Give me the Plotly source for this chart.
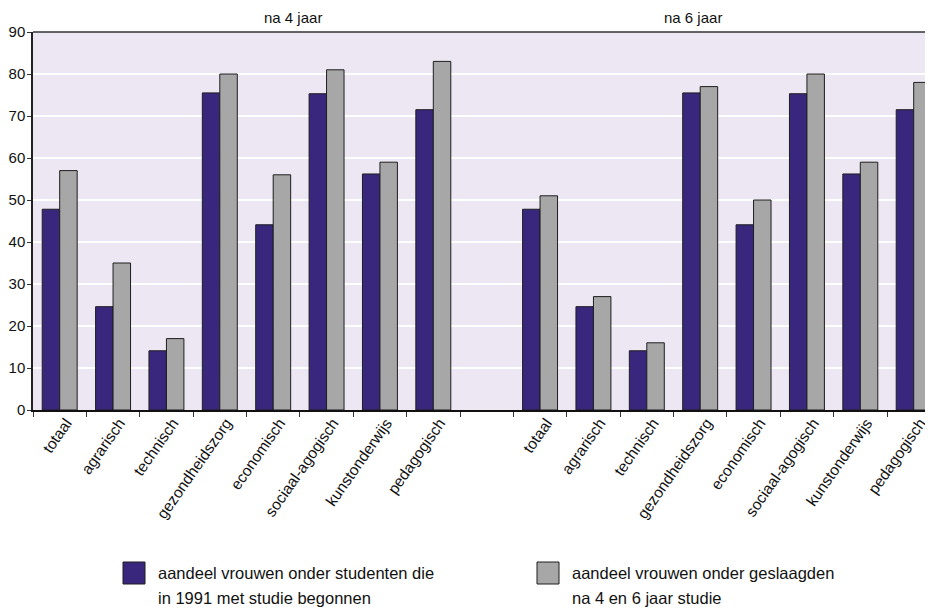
import plotly.graph_objects as go

# ---- data ----
categories = ["totaal", "agrarisch", "technisch", "gezondheidszorg",
              "economisch", "sociaal-agogisch", "kunstonderwijs", "pedagogisch"]
group_titles = ["na 4 jaar", "na 6 jaar"]
series_names = ["aandeel vrouwen onder studenten die<br>in 1991 met studie begonnen",
                "aandeel vrouwen onder geslaagden<br>na 4 en 6 jaar studie"]
starters_4 = [47.8, 24.6, 14.1, 75.5, 44.1, 75.3, 56.2, 71.5]
graduates_4 = [57, 35, 17, 80, 56, 81, 59, 83]
starters_6 = [47.8, 24.6, 14.1, 75.5, 44.1, 75.3, 56.2, 71.5]
graduates_6 = [51, 27, 16, 77, 50, 80, 59, 78]
y_ticks = [0, 10, 20, 30, 40, 50, 60, 70, 80, 90]

# ---- layout helpers ----
# the page body has an 8px margin; the figure is sized so it fills the window exactly
OFF = 8
W, H = 933 - OFF, 609 - OFF
L, T = 33 - OFF, 32 - OFF
B = H - (410 - OFF)
PW = W - L
PH = H - T - B
FONT = "Liberation Sans Narrow, Arial Narrow, Liberation Sans, Arial, sans-serif"
PURPLE = "#39277D"
GRAY = "#A7A7A7"
OUTLINE = "#1E1E1E"

n = len(categories)
x4 = list(range(n))
x6 = [i + n + 1 for i in range(n)]
xs = x4 + x6
slot_px = 53.375
x_max = -0.5 + PW / slot_px
label_shift = 0.12  # rotated labels sit slightly right of the slot centre

def px_x(px):  # window pixel -> paper fraction
    return (px - OFF - L) / PW

def px_y(py):
    return (H - B - (py - OFF)) / PH

fig = go.Figure()
fig.add_trace(go.Bar(x=xs, y=starters_4 + starters_6, name=series_names[0],
                     marker=dict(color=PURPLE, line=dict(color=OUTLINE, width=1)),
                     showlegend=False))
fig.add_trace(go.Bar(x=xs, y=graduates_4 + graduates_6, name=series_names[1],
                     marker=dict(color=GRAY, line=dict(color=OUTLINE, width=1)),
                     showlegend=False))

boundaries = [i - 0.5 for i in range(2 * n + 2)]

fig.update_layout(
    width=W, height=H,
    margin=dict(l=L, r=0, t=T, b=B, pad=0, autoexpand=False),
    paper_bgcolor="white",
    plot_bgcolor="#ECE7F2",
    barmode="group",
    bargap=0.345,
    bargroupgap=0,
    font=dict(family=FONT, size=16, color="#111"),
    xaxis=dict(
        range=[-0.5, x_max],
        automargin=False,
        tickmode="array",
        tickvals=[x + label_shift for x in xs],
        ticktext=categories + categories,
        tickangle=-55,
        ticks="",
        ticklabelstandoff=-4,
        showgrid=False,
        zeroline=False,
        showline=True, linecolor="#111", linewidth=2,
        mirror=False,
        tickfont=dict(size=15.5),
        minor=dict(tickmode="array", tickvals=boundaries, ticks="outside",
                   ticklen=5, tickcolor="#333", tickwidth=1, showgrid=False),
    ),
    yaxis=dict(
        range=[0, 90],
        automargin=False,
        tickmode="array",
        tickvals=y_ticks,
        ticks="outside", ticklen=4, tickcolor="#333",
        ticklabelstandoff=-1,
        showline=True, linecolor="#222", linewidth=1.5,
        gridcolor="white", gridwidth=2,
        zeroline=False,
        tickfont=dict(size=15),
    ),
)

# top border of the plot area
fig.add_shape(type="line", xref="paper", yref="paper", x0=0, x1=1, y0=1, y1=1,
              line=dict(color="#333", width=1.5))

# group titles
for title, xp in zip(group_titles, [262, 724]):
    fig.add_annotation(text=title, xref="paper", yref="paper", x=px_x(xp), y=1,
                       yanchor="bottom", yshift=4, showarrow=False,
                       font=dict(size=15))

# legend (swatches + text, one annotation per text line)
for name, color, sx, tx in zip(series_names, [PURPLE, GRAY], [123, 537], [156, 570]):
    fig.add_shape(type="rect", xref="paper", yref="paper",
                  x0=px_x(sx), x1=px_x(sx + 22), y0=px_y(584), y1=px_y(562),
                  fillcolor=color, line=dict(color=OUTLINE, width=1))
    for line, cy in zip(name.split("<br>"), [573, 598]):
        fig.add_annotation(text=line, xref="paper", yref="paper", x=px_x(tx), y=px_y(cy),
                           xanchor="left", yanchor="middle", align="left", showarrow=False,
                           font=dict(size=16.5))

fig.write_html("out.html")
